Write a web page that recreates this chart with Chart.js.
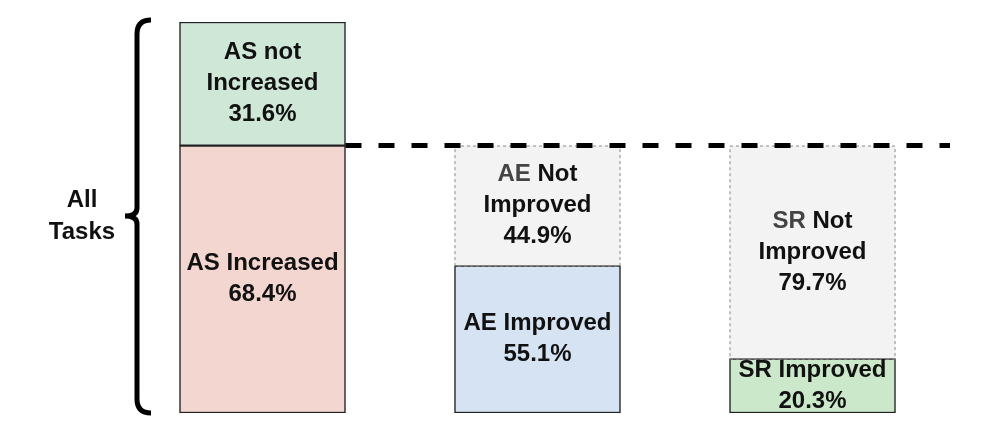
<!DOCTYPE html>
<html>
<head>
<meta charset="utf-8">
<script src="https://cdn.jsdelivr.net/npm/chart.js@4.4.1/dist/chart.umd.min.js"></script>
<style>
  body { margin: 0; background: #fff; }
  #wrap { width: 997px; height: 436px; position: relative; }
</style>
</head>
<body>
<div id="wrap"><canvas id="grafica"></canvas></div>
<script>
(function(){
    // data
    const categorias = ['AS', 'AE', 'SR'];
    const valoresAbajo = [68.4, 37.7, 13.9];   // increased / improved part
    const valoresArriba = [31.6, 30.7, 54.5];  // not increased / not improved part
    const etiquetasAbajo = [['AS Increased', '68.4%'], ['AE Improved', '55.1%'], ['SR Improved', '20.3%']];
    const etiquetasArriba = [['AS not', 'Increased', '31.6%'], ['AE Not', 'Improved', '44.9%'], ['SR Not', 'Improved', '79.7%']];
    const prefijoGris = [false, true, true];
    const lineaBase = 68.4;
    const grupoEtiqueta = ['All', 'Tasks'];

    const fuente = 'bold 24px "Liberation Sans", Arial, sans-serif';

    const textoBarras = {
        id: 'textoBarras',
        afterDatasetsDraw(chart) {
            const ctx = chart.ctx;
            ctx.save();
            ctx.font = fuente;
            ctx.textBaseline = 'middle';
            [etiquetasAbajo, etiquetasArriba].forEach((grupo, d) => {
                chart.getDatasetMeta(d).data.forEach((bar, i) => {
                    const lineas = grupo[i];
                    const cy = (bar.y + bar.base) / 2;
                    const alto = 31;
                    lineas.forEach((txt, k) => {
                        const y = cy + (k - (lineas.length - 1) / 2) * alto;
                        if (d === 1 && k === 0 && prefijoGris[i]) {
                            const partes = txt.split(' ');
                            const p1 = partes[0];
                            const p2 = ' ' + partes.slice(1).join(' ');
                            const w1 = ctx.measureText(p1).width;
                            const w2 = ctx.measureText(p2).width;
                            const x0 = bar.x - (w1 + w2) / 2;
                            ctx.textAlign = 'left';
                            ctx.fillStyle = '#444444';
                            ctx.fillText(p1, x0, y);
                            ctx.fillStyle = '#111111';
                            ctx.fillText(p2, x0 + w1, y);
                        } else {
                            ctx.textAlign = 'center';
                            ctx.fillStyle = '#111111';
                            ctx.fillText(txt, bar.x, y);
                        }
                    });
                });
            });
            ctx.restore();
        }
    };

    const decoracion = {
        id: 'decoracion',
        beforeDatasetsDraw(chart) {
            // grey fill of the "not improved" boxes
            const ctx = chart.ctx;
            const meta = chart.getDatasetMeta(1);
            ctx.save();
            meta.data.forEach((bar, i) => {
                if (i === 0) return;
                const w = bar.width;
                ctx.fillStyle = '#f3f3f3';
                ctx.fillRect(bar.x - w / 2, bar.y, w, bar.base - bar.y);
            });
            ctx.restore();
        },
        afterDatasetsDraw(chart) {
            const ctx = chart.ctx;
            const area = chart.chartArea;
            const yScale = chart.scales.y;
            const meta = chart.getDatasetMeta(1);
            ctx.save();
            // dashed outline
            ctx.strokeStyle = '#8a8a8a';
            ctx.lineWidth = 1;
            ctx.setLineDash([3, 3]);
            meta.data.forEach((bar, i) => {
                if (i === 0) return;
                const w = bar.width;
                ctx.strokeRect(bar.x - w / 2 + 0.5, bar.y + 0.5, w - 1, bar.base - bar.y);
            });
            // thick dashed reference line
            const yb = yScale.getPixelForValue(lineaBase);
            const b0 = chart.getDatasetMeta(0).data[0];
            ctx.strokeStyle = '#000';
            ctx.lineWidth = 5;
            ctx.setLineDash([16, 17]);
            ctx.beginPath();
            ctx.moveTo(b0.x + b0.width / 2, yb);
            ctx.lineTo(area.right, yb);
            ctx.stroke();
            // brace
            ctx.setLineDash([]);
            ctx.lineWidth = 5;
            ctx.lineCap = 'butt';
            const top = area.top - 2, bot = area.bottom;
            const xb = 137, mid = 216;
            ctx.beginPath();
            ctx.moveTo(151, top);
            ctx.quadraticCurveTo(xb, top, xb, top + 14);
            ctx.lineTo(xb, mid - 8);
            ctx.quadraticCurveTo(xb, mid, 125, mid);
            ctx.moveTo(125, mid);
            ctx.quadraticCurveTo(xb, mid, xb, mid + 8);
            ctx.lineTo(xb, bot - 14);
            ctx.quadraticCurveTo(xb, bot, 151, bot);
            ctx.stroke();
            // group label
            ctx.font = fuente;
            ctx.fillStyle = '#111111';
            ctx.textAlign = 'center';
            ctx.textBaseline = 'middle';
            grupoEtiqueta.forEach((t, k) => ctx.fillText(t, 82, 200 + k * 32));
            ctx.restore();
        }
    };

    const ctx = document.getElementById('grafica');
    new Chart(ctx, {
        type: 'bar',
        data: {
            labels: categorias,
            datasets: [{
                label: 'improved',
                data: valoresAbajo,
                backgroundColor: ['#f2d6cf', '#d5e3f3', '#cbe8cb'],
                borderColor: '#222222',
                borderWidth: 1.5,
                borderSkipped: false
            }, {
                label: 'not improved',
                data: valoresArriba,
                backgroundColor: ['#cfe7d7', 'rgba(0,0,0,0)', 'rgba(0,0,0,0)'],
                borderColor: ['#222222', 'rgba(0,0,0,0)', 'rgba(0,0,0,0)'],
                borderWidth: [1.5, 0, 0],
                borderSkipped: false
            }]
        },
        options: {
            responsive: true,
            maintainAspectRatio: false,
            animation: false,
            layout: { padding: { left: 125, right: 47, top: 22, bottom: 23 } },
            datasets: { bar: { barThickness: 166 } },
            scales: {
                x: { stacked: true, display: false },
                y: { stacked: true, display: false, min: 0, max: 100 }
            },
            plugins: {
                legend: { display: false },
                tooltip: { enabled: false }
            }
        },
        plugins: [decoracion, textoBarras]
    });
})();
</script>
</body>
</html>
